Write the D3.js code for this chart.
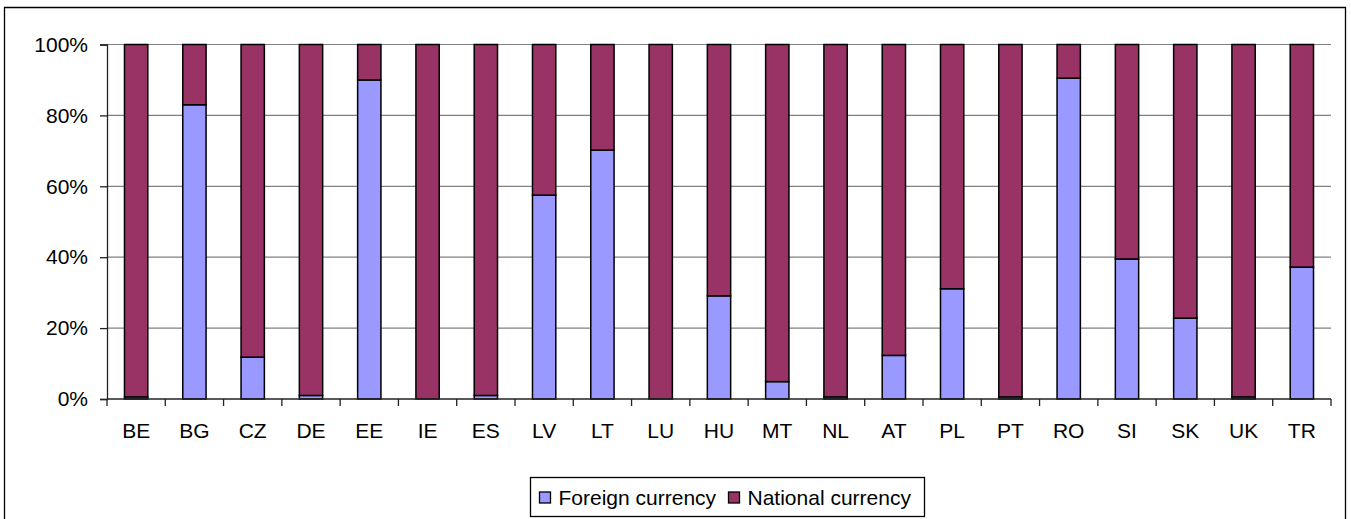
<!DOCTYPE html>
<html lang="en">

<head>
  <meta charset="UTF-8" />
  <title>Foreign vs national currency</title>
  <script src="https://cdnjs.cloudflare.com/ajax/libs/d3/7.8.5/d3.min.js"></script>
  <style>
    body { margin: 0; background: #fff; overflow: hidden; }
    svg { display: block; }
    svg text { font-family: "Liberation Sans", Arial, sans-serif; fill: #000; }
  </style>
</head>

<body>
  <svg id="svg"></svg>
</body>

<script>
  // data (share of foreign currency, %)
  const countries = ["BE", "BG", "CZ", "DE", "EE", "IE", "ES", "LV", "LT", "LU", "HU",
    "MT", "NL", "AT", "PL", "PT", "RO", "SI", "SK", "UK", "TR"];
  const foreign = [0.6, 83, 11.8, 1, 90, 0, 1, 57.5, 70.2, 0, 29.1,
    4.9, 0.6, 12.3, 31.1, 0.6, 90.5, 39.5, 22.8, 0.6, 37.2];
  const national = foreign.map(v => 100 - v);
  const yTicks = [0, 20, 40, 60, 80, 100];
  const seriesNames = ["Foreign currency", "National currency"];
  const colors = ["#9999FF", "#993366"];

  const width = 1351;
  const height = 519;
  const margin = { top: 44.5, right: 20, bottom: 120, left: 107 };
  const innerWidth = 1331 - margin.left;
  const innerHeight = 399 - margin.top;
  const fontSize = "21px";

  const svg = d3.select("#svg").attr("width", width).attr("height", height);

  // outer frame (bottom edge falls outside the picture)
  svg.append("path")
    .attr("d", `M4.5,${height} V7.5 H1345.5 V${height}`)
    .attr("fill", "none").attr("stroke", "#000").attr("stroke-width", 1.3);

  const table = countries.map((c, i) => ({ country: c, foreign: foreign[i], national: national[i] }));
  const stacked = d3.stack().keys(["foreign", "national"])(table);

  const xScale = d3.scaleBand().domain(countries).range([0, innerWidth]).padding(0);
  const yScale = d3.scaleLinear().domain([0, 100]).range([innerHeight, 0]);

  const g = svg.append("g").attr("transform", `translate(${margin.left}, ${margin.top})`);

  // gridlines
  g.append("g")
    .selectAll("line")
    .data(yTicks.filter(d => d > 0))
    .join("line")
    .attr("x1", 0).attr("x2", innerWidth)
    .attr("y1", d => yScale(d)).attr("y2", d => yScale(d))
    .attr("stroke", "#808080").attr("stroke-width", 1.2);

  // bars
  const barW = xScale.bandwidth() * 0.4;
  g.append("g")
    .selectAll("g")
    .data(stacked)
    .join("g")
    .attr("fill", (d, i) => colors[i])
    .selectAll("rect")
    .data(d => d)
    .join("rect")
    .attr("x", d => xScale(d.data.country) + (xScale.bandwidth() - barW) / 2)
    .attr("y", d => yScale(d[1]))
    .attr("width", barW)
    .attr("height", d => yScale(d[0]) - yScale(d[1]))
    .attr("stroke", "#000")
    .attr("stroke-width", 1.5);

  // y axis
  const yAxis = d3.axisLeft(yScale).tickValues(yTicks).tickFormat(d => d + "%")
    .tickSize(7).tickPadding(12);
  const yAxisGroup = g.append("g").call(yAxis);
  yAxisGroup.selectAll("text").attr("font-size", fontSize);
  yAxisGroup.selectAll("line, path").attr("stroke", "#222").attr("stroke-width", 1.3);

  // x axis: ticks at band boundaries
  const xAxisGroup = g.append("g").attr("transform", `translate(0, ${innerHeight})`);
  xAxisGroup.append("line")
    .attr("x1", 0).attr("x2", innerWidth)
    .attr("stroke", "#222").attr("stroke-width", 1.3);
  xAxisGroup.selectAll(".tick")
    .data(countries.concat(["end"]))
    .join("line")
    .attr("class", "tick")
    .attr("x1", (d, i) => i * xScale.step()).attr("x2", (d, i) => i * xScale.step())
    .attr("y1", 0).attr("y2", 7)
    .attr("stroke", "#222").attr("stroke-width", 1.3);
  xAxisGroup.selectAll("text")
    .data(countries)
    .join("text")
    .attr("x", d => xScale(d) + xScale.bandwidth() / 2)
    .attr("y", 39)
    .attr("text-anchor", "middle")
    .attr("font-size", fontSize)
    .text(d => d);

  // legend
  const legend = svg.append("g").attr("transform", "translate(530.5, 477.5)");
  legend.append("rect")
    .attr("width", 394).attr("height", 39)
    .attr("fill", "#fff").attr("stroke", "#000").attr("stroke-width", 1.3);
  const legendX = [9, 198];
  const item = legend.selectAll(".item")
    .data(seriesNames)
    .join("g")
    .attr("class", "item")
    .attr("transform", (d, i) => `translate(${legendX[i]}, 0)`);
  item.append("rect")
    .attr("y", 14.5).attr("width", 11).attr("height", 11)
    .attr("fill", (d, i) => colors[i]).attr("stroke", "#000").attr("stroke-width", 1.3);
  item.append("text")
    .attr("x", 19).attr("y", 27)
    .attr("font-size", fontSize)
    .text(d => d);
</script>

</html>
